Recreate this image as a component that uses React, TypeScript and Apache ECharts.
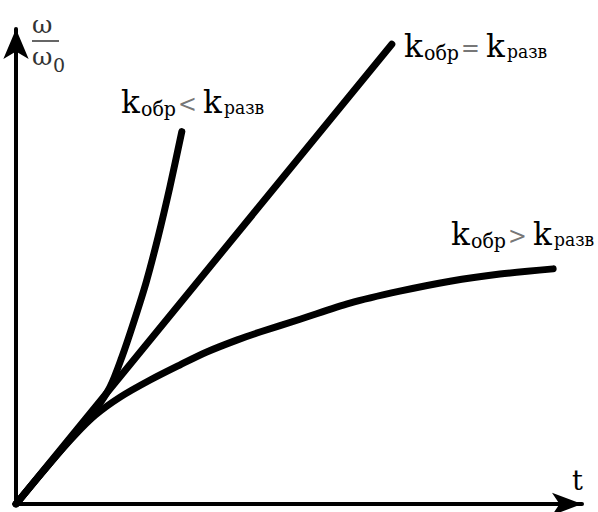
import React, { useEffect, useRef } from "react";
import * as echarts from "echarts";

// Curve data in (t, ω/ω0) units
const fastCurve: [number, number][] = [
  [0, 0], [0.6, 0.86], [1.13, 1.6], [1.4, 1.98], [1.66, 2.46], [1.87, 3.09],
  [2.08, 3.83], [2.3, 4.67], [2.51, 5.62], [2.72, 6.68], [2.93, 7.84],
];
const linearCurve: [number, number][] = [
  [0, 0], [6.64, 9.68],
];
const slowCurve: [number, number][] = [
  [0, 0], [0.6, 0.86], [1.04, 1.45], [1.4, 1.87], [1.84, 2.25], [2.37, 2.61],
  [2.9, 2.93], [3.37, 3.2], [3.9, 3.45], [4.31, 3.62], [5.02, 3.89], [5.9, 4.23],
  [6.78, 4.48], [7.67, 4.69], [8.55, 4.84], [9.49, 4.95],
];

const X_MAX = 10;
const Y_MAX = 10;

const SERIF = "DejaVu Serif";

// text piece placed by its left edge and alphabetic baseline
function piece(
  text: string,
  x: number,
  baseline: number,
  size: number,
  fill = "#000",
  scaleX = 1
) {
  return {
    type: "text",
    x,
    y: baseline - 0.346 * size,
    scaleX,
    silent: true,
    style: {
      text,
      fontFamily: SERIF,
      fontSize: size,
      fill,
      textAlign: "left",
      textVerticalAlign: "middle",
    },
  };
}

function relation(x: number, base: number, sign: string) {
  // k_обр <sign> k_разв, each part laid out left to right
  return [
    piece("k", x, base, 31),
    piece("обр", x + 20, base + 3, 20, "#000", 0.95),
    piece(sign, x + 57, base - 1, 25, "#777", 0.9),
    piece("k", x + 82, base, 31),
    piece("разв", x + 103, base + 1, 19, "#000", 0.9),
  ];
}

export default function App() {
  const ref = useRef<HTMLDivElement>(null);

  useEffect(() => {
    if (!ref.current) return;
    const chart = echarts.init(ref.current, undefined, { renderer: "svg" });

    const axisCommon = {
      type: "value" as const,
      min: 0,
      axisTick: { show: false },
      axisLabel: { show: false },
      splitLine: { show: false },
    };

    const lineSeries = (data: [number, number][], smooth: number | boolean) => ({
      type: "line",
      data,
      smooth,
      showSymbol: false,
      symbol: "none",
      silent: true,
      lineStyle: { color: "#000", width: 7, cap: "round", join: "round" },
    });

    chart.setOption({
      animation: false,
      backgroundColor: "#fff",
      grid: { left: 16, right: 16, top: 29, bottom: 8 },
      xAxis: {
        ...axisCommon,
        max: X_MAX,
        axisLine: {
          show: true,
          onZero: false,
          symbol: ["none", "arrow"],
          symbolSize: [17, 30],
          lineStyle: { color: "#000", width: 4 },
        },
      },
      yAxis: {
        ...axisCommon,
        max: Y_MAX,
        axisLine: {
          show: true,
          onZero: false,
          symbol: ["none", "arrow"],
          symbolSize: [19, 30],
          lineStyle: { color: "#000", width: 4 },
        },
      },
      series: [
        lineSeries(fastCurve, 0.3),
        lineSeries(linearCurve, false),
        lineSeries(slowCurve, 0.3),
      ],
      graphic: [
        // ω / ω0 axis title
        piece("ω", 32, 33, 25, "#333"),
        {
          type: "line",
          silent: true,
          shape: { x1: 32, y1: 41, x2: 59, y2: 41 },
          style: { stroke: "#333", lineWidth: 1.5 },
        },
        piece("ω", 32, 65, 25, "#333"),
        piece("0", 53, 72, 19, "#333"),
        // time axis title
        piece("t", 572, 490, 27),
        // curve labels
        ...relation(121, 113, "<"),
        ...relation(404, 57, "="),
        ...relation(451, 245, ">"),
      ],
    });

    return () => chart.dispose();
  }, []);

  return (
    <div
      ref={ref}
      style={{ position: "fixed", left: 0, top: 0, width: 598, height: 512, background: "#fff" }}
    />
  );
}
